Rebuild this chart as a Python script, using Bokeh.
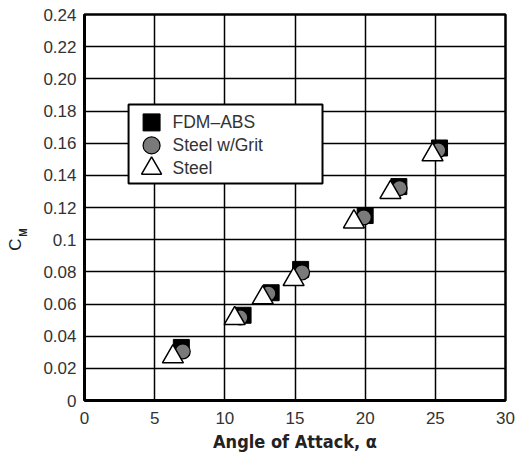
import math
from bokeh.plotting import figure
from bokeh.layouts import row
from bokeh.models import Range1d, FixedTicker, Label, BoxAnnotation
from bokeh.core.properties import value
from bokeh.embed import file_html
from bokeh.resources import INLINE

# Pitching-moment coefficient vs angle of attack for three model finishes
fdm_aoa = [6.9, 11.3, 13.3, 15.4, 20.0, 22.4, 25.3]
fdm_cm = [0.033, 0.053, 0.067, 0.0815, 0.115, 0.133, 0.157]

grit_aoa = [7.0, 11.1, 13.1, 15.5, 19.9, 22.45, 25.2]
grit_cm = [0.0305, 0.0516, 0.0665, 0.0796, 0.1138, 0.132, 0.1555]

steel_aoa = [6.3, 10.7, 12.7, 14.9, 19.2, 21.8, 24.8]
steel_cm = [0.0272, 0.051, 0.0639, 0.0752, 0.1111, 0.1294, 0.1528]

x_ticks = [0, 5, 10, 15, 20, 25, 30]
y_ticks = [0, 0.02, 0.04, 0.06, 0.08, 0.1, 0.12, 0.14, 0.16, 0.18, 0.20, 0.22, 0.24]
y_tick_labels = ["0", "0.02", "0.04", "0.06", "0.08", "0.1", "0.12", "0.14",
                 "0.16", "0.18", "0.20", "0.22", "0.24"]

series_names = ["FDM\u2013ABS", "Steel w/Grit", "Steel"]

FONT = "Liberation Sans"
TEXT = "#333333"
TOTAL_W, TOTAL_H = 516, 461
BORDER_TOP, BORDER_BOTTOM = 14, 61
STRIP_W = 34  # narrow strip holding the rotated C_M title

p = figure(width=TOTAL_W - STRIP_W, height=TOTAL_H,
           x_range=Range1d(0, 30), y_range=Range1d(0, 0.24),
           output_backend="svg", toolbar_location=None,
           min_border_left=84 - STRIP_W, min_border_right=11,
           min_border_top=BORDER_TOP, min_border_bottom=BORDER_BOTTOM)

p.background_fill_color = "white"
p.border_fill_color = "white"
p.outline_line_color = "black"
p.outline_line_width = 2.5

# axes
p.xaxis.ticker = FixedTicker(ticks=x_ticks)
p.yaxis.ticker = FixedTicker(ticks=y_ticks)
p.yaxis.major_label_overrides = {t: s for t, s in zip(y_ticks, y_tick_labels)}
for ax in (p.xaxis, p.yaxis):
    ax.axis_line_color = "black"
    ax.axis_line_width = 3
    ax.major_tick_out = 0
    ax.major_tick_in = 0
    ax.minor_tick_out = 0
    ax.minor_tick_in = 0
    ax.major_label_text_font = FONT
    ax.major_label_text_font_size = "17px"
    ax.major_label_text_color = TEXT
p.yaxis.major_label_standoff = 8
p.xaxis.major_label_standoff = 11

p.xaxis.axis_label = "Angle of Attack, \u03b1"
p.xaxis.axis_label_text_font = "'DejaVu Sans Condensed', 'Liberation Sans'"
p.xaxis.axis_label_text_font_style = "bold"
p.xaxis.axis_label_text_font_size = "18px"
p.xaxis.axis_label_text_color = "#222222"
p.xaxis.axis_label_standoff = 4

# grid
p.xgrid.ticker = FixedTicker(ticks=x_ticks)
p.ygrid.ticker = FixedTicker(ticks=y_ticks)
for g in (p.xgrid, p.ygrid):
    g.grid_line_color = "black"
    g.grid_line_width = 1.5
    g.grid_line_alpha = 1.0

# data
p.scatter(fdm_aoa, fdm_cm, marker="square", size=16,
          fill_color="black", line_color="black", line_width=1)
p.scatter(grit_aoa, grit_cm, marker="circle", size=15,
          fill_color="#7a7a7a", line_color="black", line_width=1.2)
p.scatter(steel_aoa, steel_cm, marker="triangle", size=21,
          fill_color="white", line_color="black", line_width=1.5)

# legend, drawn as a boxed key
leg_left, leg_right, leg_bottom, leg_top = 3.14, 16.96, 0.135, 0.1841
key_x = 4.78
text_x = 6.27
row_y = [0.1729, 0.1586, 0.1443]

p.add_layout(BoxAnnotation(left=leg_left, right=leg_right,
                           bottom=leg_bottom, top=leg_top,
                           fill_color="white", fill_alpha=1.0,
                           line_color="black", line_width=2, line_alpha=1.0))
for name, yy in zip(series_names, row_y):
    p.add_layout(Label(x=text_x, y=yy, text=name, text_baseline="middle",
                       text_font=FONT, text_font_size="17.5px", text_color=TEXT))

p.scatter([key_x], [row_y[0]], marker="square", size=17, level="overlay",
          fill_color="black", line_color="black")
p.scatter([key_x], [row_y[1]], marker="circle", size=17, level="overlay",
          fill_color="#7a7a7a", line_color="black", line_width=1.2)
p.scatter([key_x], [row_y[2]], marker="triangle", size=20, level="overlay",
          fill_color="white", line_color="black", line_width=1.5)

# y-axis title C_M, in pixel coordinates of a narrow side strip whose
# frame lines up with the plot frame (y measured up from the canvas bottom)
t = figure(width=STRIP_W, height=TOTAL_H,
           x_range=Range1d(0, STRIP_W),
           y_range=Range1d(BORDER_BOTTOM, TOTAL_H - BORDER_TOP),
           output_backend="svg", toolbar_location=None,
           min_border_left=0, min_border_right=0,
           min_border_top=BORDER_TOP, min_border_bottom=BORDER_BOTTOM,
           outline_line_color=None)
t.axis.visible = False
t.grid.visible = False
t.background_fill_color = "white"
t.border_fill_color = "white"
t.text(x=[15], y=[TOTAL_H - 244], text=["C"], angle=math.pi / 2,
       text_align="center", text_baseline="middle",
       text_font=value(FONT), text_font_size="17px", text_color="#222222")
t.text(x=[22.5], y=[TOTAL_H - 232], text=["M"], angle=math.pi / 2,
       text_align="center", text_baseline="middle",
       text_font=value(FONT), text_font_style="bold",
       text_font_size="10px", text_color="#222222")

layout = row(t, p, spacing=0)
open("out.html", "w").write(file_html(layout, INLINE))
